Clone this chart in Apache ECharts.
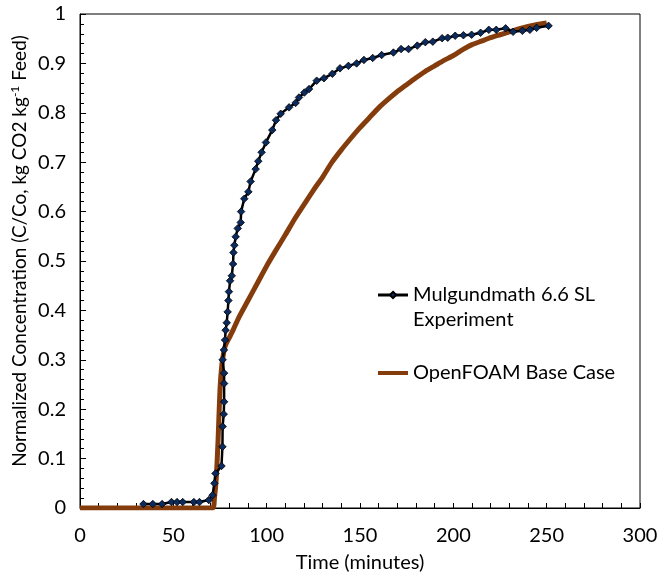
<!DOCTYPE html>
<html>
<head>
<meta charset="utf-8">
<script src="https://cdn.jsdelivr.net/npm/echarts@6/dist/echarts.min.js"></script>
<style>
  html, body { margin: 0; padding: 0; background: #fff; }
  #chart { width: 658px; height: 575px; }
</style>
</head>
<body>
<div id="chart"></div>
<script>
// Breakthrough curve: measured outlet concentration vs. OpenFOAM simulation
const experimentName = 'Mulgundmath 6.6 SL Experiment';
const experimentLines = ['Mulgundmath 6.6 SL', 'Experiment'];
const simulationName = 'OpenFOAM Base Case';
const xTitle = 'Time (minutes)';

// Measured points: [time (min), C/Co]
const experimentData = [
  [34, 0.008], [39, 0.008], [44, 0.008], [49, 0.012], [52, 0.012], [55, 0.012],
  [61, 0.012], [64, 0.012], [69, 0.016], [71, 0.026], [72, 0.05], [72.6, 0.07],
  [75.8, 0.085], [76.3, 0.124], [76.4, 0.165], [77, 0.19], [77.2, 0.215],
  [77.2, 0.252], [77.2, 0.273], [76.4, 0.30], [77.1, 0.32], [77.7, 0.34],
  [78, 0.36], [78.6, 0.375], [79.1, 0.397], [79.5, 0.42], [79.8, 0.438],
  [80.4, 0.46], [81.3, 0.47], [82, 0.494], [82.2, 0.517], [82.7, 0.532],
  [83.4, 0.549], [84.5, 0.566], [86.1, 0.578], [86.3, 0.6], [88, 0.626],
  [90.2, 0.64], [91.4, 0.661], [94.1, 0.686], [95.5, 0.702], [97.3, 0.72],
  [99.6, 0.74], [103, 0.765], [105, 0.785], [107.5, 0.798], [112, 0.811],
  [115.5, 0.82], [117.3, 0.831], [120.2, 0.841], [122.7, 0.848], [126.8, 0.865],
  [130.7, 0.87], [135.2, 0.879], [139.3, 0.89], [143.8, 0.895], [148.2, 0.9],
  [152.1, 0.907], [156.8, 0.911], [161.6, 0.917], [167.9, 0.922], [172, 0.929],
  [176, 0.929], [180.7, 0.936], [185, 0.943], [189, 0.944], [194, 0.951],
  [197, 0.952], [201, 0.956], [205.4, 0.957], [209.8, 0.958], [214.6, 0.962],
  [219, 0.968], [223, 0.968], [228, 0.971], [232, 0.964], [237, 0.966],
  [241, 0.968], [244.6, 0.972], [251, 0.976]
];

// Simulated outlet curve: [time (min), C/Co]
const simulationData = [
  [0, 0], [71, 0], [72, 0.02], [73, 0.06], [74, 0.14], [75, 0.24], [76, 0.29],
  [77, 0.315], [78, 0.33], [80, 0.345], [82, 0.36], [85, 0.385], [90, 0.42],
  [95, 0.455], [100, 0.49], [105, 0.522], [110, 0.553], [115, 0.585],
  [120, 0.614], [125, 0.643], [130, 0.67], [135, 0.70], [140, 0.725],
  [145, 0.748], [150, 0.77], [155, 0.79], [160, 0.81], [165, 0.827],
  [170, 0.843], [175, 0.857], [180, 0.871], [185, 0.884], [190, 0.895],
  [195, 0.906], [200, 0.916], [205, 0.928], [210, 0.938], [215, 0.945],
  [220, 0.952], [225, 0.958], [230, 0.964], [235, 0.97], [240, 0.975],
  [245, 0.979], [250, 0.982]
];

const FONT = 'Lato';
const FS = 20;
const chart = echarts.init(document.getElementById('chart'), null, { renderer: 'canvas' });

chart.setOption({
  animation: false,
  backgroundColor: '#fff',
  textStyle: { fontFamily: FONT },
  grid: {
    left: 80, right: 18, top: 14, bottom: 67,
    outerBoundsMode: 'none', containLabel: false,
    show: true, borderColor: '#000', borderWidth: 1, backgroundColor: 'transparent'
  },
  legend: {
    orient: 'vertical',
    left: 371, top: 255,
    itemWidth: 30, itemHeight: 8, itemGap: 33,
    // a blank first line keeps the icon level with the first text line
    formatter: name => name === experimentName
      ? '{e| }\n{t|' + experimentLines[0] + '}\n{t|' + experimentLines[1] + '}'
      : '{t|' + name + '}',
    textStyle: {
      fontFamily: FONT, fontSize: FS, color: '#000',
      rich: {
        e: { fontSize: FS, lineHeight: 25 },
        t: { fontFamily: FONT, fontSize: FS, color: '#000', lineHeight: 25 }
      }
    },
    data: [
      { name: experimentName, lineStyle: { width: 3 } },
      { name: simulationName, itemStyle: { opacity: 0 }, lineStyle: { width: 4 } }
    ]
  },
  xAxis: {
    type: 'value', min: 0, max: 300, interval: 50,
    name: xTitle, nameLocation: 'middle', nameGap: 45,
    nameTextStyle: { fontFamily: FONT, fontSize: FS, color: '#000' },
    axisLine: { show: true, onZero: false, lineStyle: { color: '#000', width: 1 } },
    axisTick: { show: true, inside: true, length: 5, lineStyle: { color: '#000' } },
    minorTick: { show: true, splitNumber: 5, length: 5, lineStyle: { color: '#000' } },
    axisLabel: { fontFamily: FONT, fontSize: FS, color: '#000', margin: 18 },
    splitLine: { show: false }
  },
  yAxis: {
    type: 'value', min: 0, max: 1, interval: 0.1,
    axisLine: { show: true, lineStyle: { color: '#000', width: 1 } },
    axisTick: { show: true, inside: true, length: 6, lineStyle: { color: '#000' } },
    minorTick: { show: true, splitNumber: 5, length: 4, lineStyle: { color: '#000' } },
    axisLabel: { fontFamily: FONT, fontSize: FS, color: '#000', margin: 14 },
    splitLine: { show: false }
  },
  graphic: [{
    type: 'text',
    x: 20, y: 251,
    rotation: Math.PI / 2,
    style: {
      text: '{n|Normalized Concentration (C/Co, kg CO2 kg}{s|-1}{n| Feed)}',
      textAlign: 'center', textVerticalAlign: 'middle',
      rich: {
        n: { fontFamily: FONT, fontSize: 19, fill: '#000' },
        s: { fontFamily: FONT, fontSize: 12, fill: '#000', verticalAlign: 'top', padding: [0, 0, 9, 0] }
      }
    }
  }],
  series: [
    {
      name: simulationName,
      type: 'line',
      data: simulationData,
      showSymbol: false,
      symbol: 'none',
      smooth: 0.2,
      z: 2,
      lineStyle: { color: '#843C0C', width: 5 },
      itemStyle: { color: '#843C0C' }
    },
    {
      name: experimentName,
      type: 'line',
      data: experimentData,
      symbol: 'diamond',
      symbolSize: 7.5,
      z: 3,
      lineStyle: { color: '#000', width: 2.5 },
      itemStyle: { color: '#0B2A5E', borderColor: '#000', borderWidth: 0.8 }
    }
  ]
});
</script>
</body>
</html>
